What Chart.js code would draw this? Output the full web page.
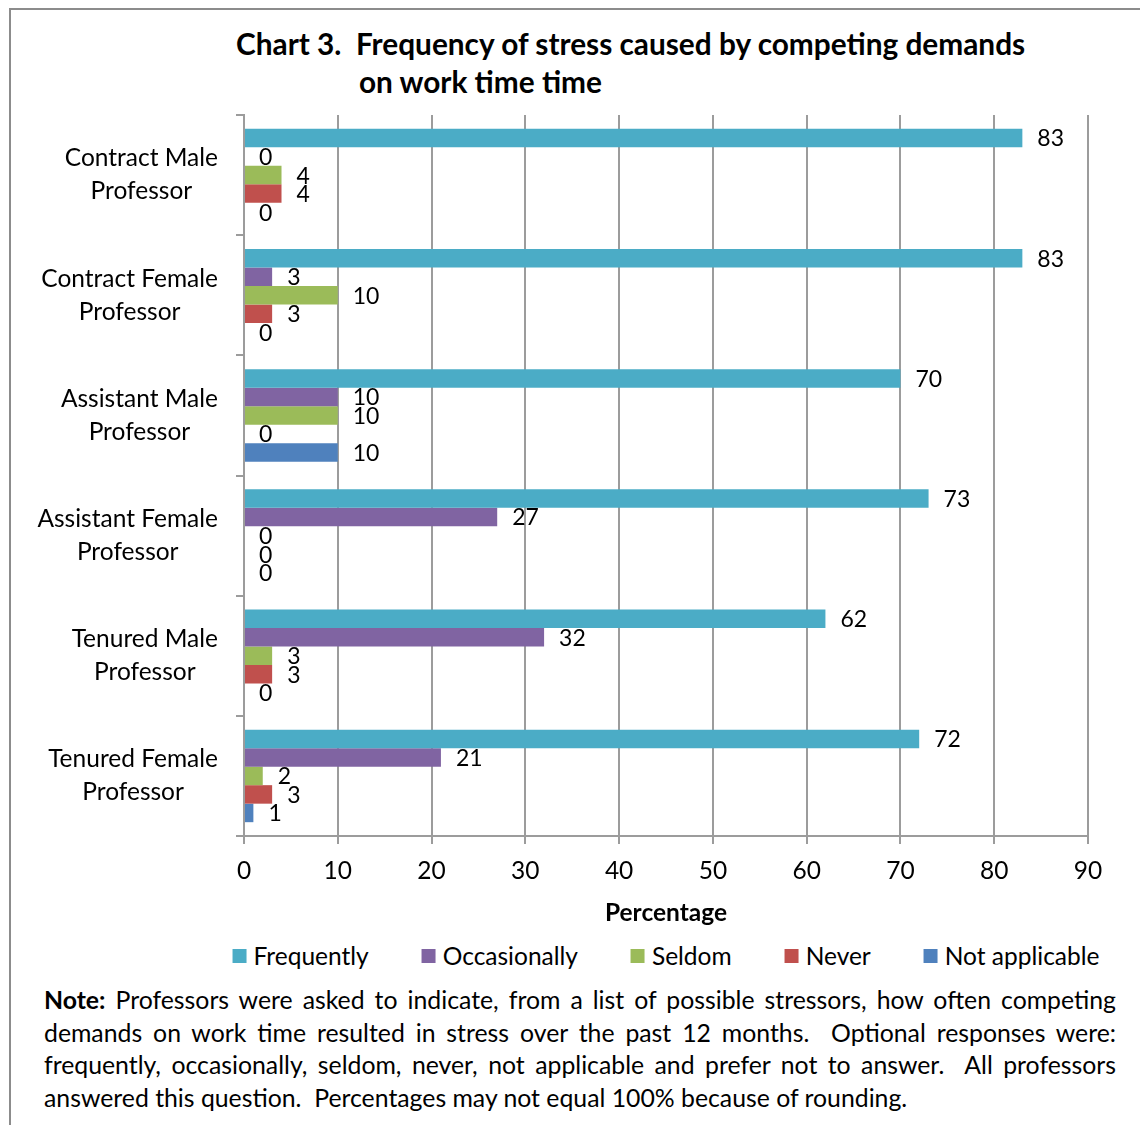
<!DOCTYPE html>
<html>
<head>
<meta charset="utf-8">
<title>Chart 3. Frequency of stress caused by competing demands on work time</title>
<script src="https://cdn.jsdelivr.net/npm/chart.js@4.4.1/dist/chart.umd.min.js"></script>
<style>
  html, body { margin: 0; padding: 0; background: #fff; }
  body {
    width: 1140px; height: 1125px; position: relative; overflow: hidden;
    font-family: Lato, "Open Sans", sans-serif; color: #000;
  }
  .frame {
    position: absolute; left: 9px; top: 8px; width: 1200px; height: 1200px;
    border-left: 2px solid #8c8c8c; border-top: 2px solid #8c8c8c;
  }
  .title {
    position: absolute; left: 236px; top: 25px;
    font-weight: bold; font-size: 29.8px; line-height: 38px; white-space: nowrap;
  }
  .title .second { padding-left: 123px; }
  #chartBox { position: absolute; left: 0; top: 100px; width: 1140px; height: 830px; }
  #legend {
    position: absolute; top: 943px; transform: translateX(-50%);
    display: flex; align-items: center; white-space: nowrap;
    font-size: 24.5px; line-height: 26px;
  }
  #legend .item { display: flex; align-items: center; }
  #legend .item + .item { margin-left: 53px; }
  #legend .swatch { width: 14px; height: 14px; margin-right: 7px; }
  .note {
    position: absolute; left: 44px; top: 984px; width: 1072px;
    font-size: 24.8px; line-height: 32.7px;
  }
  .note div { text-align: justify; text-align-last: justify; white-space: nowrap; }
  .note div:last-child { text-align-last: left; }
</style>
</head>
<body>
<div class="frame"></div>
<div class="title">
  <div>Chart 3.&nbsp; Frequency of stress caused by competing demands</div>
  <div class="second">on work time time</div>
</div>
<div id="chartBox"><canvas id="stressChart"></canvas></div>
<div id="legend"></div>
<div class="note">
  <div><b>Note:</b> Professors were asked to indicate, from a list of possible stressors, how often competing</div>
  <div>demands on work time resulted in stress over the past 12 months.&nbsp; Optional responses were:</div>
  <div>frequently, occasionally, seldom, never, not applicable and prefer not to answer.&nbsp; All professors</div>
  <div>answered this question.&nbsp; Percentages may not equal 100% because of rounding.</div>
</div>
<script>
  const categories = [
    ["Contract Male", "Professor"],
    ["Contract Female", "Professor"],
    ["Assistant Male", "Professor"],
    ["Assistant Female", "Professor"],
    ["Tenured Male", "Professor"],
    ["Tenured Female", "Professor"],
  ];
  const seriesNames = ["Frequently", "Occasionally", "Seldom", "Never", "Not applicable"];
  const frequently = [83, 83, 70, 73, 62, 72];
  const occasionally = [0, 3, 10, 27, 32, 21];
  const seldom = [4, 10, 10, 0, 3, 2];
  const never = [4, 3, 0, 0, 3, 3];
  const notApplicable = [0, 0, 10, 0, 0, 1];
  const xTicks = [0, 10, 20, 30, 40, 50, 60, 70, 80, 90];

  const seriesColors = ["#4BACC6", "#8064A2", "#9BBB59", "#C0504D", "#4F81BD"];
  const gridColor = "#9c9c9c";
  const fontFamily = 'Lato, "Open Sans", sans-serif';
  const fontSize = 24.5;
  const labelFont = `${fontSize}px ${fontFamily}`;
  const valueFont = `23px ${fontFamily}`;

  Chart.defaults.font.family = fontFamily;
  Chart.defaults.color = "#000";

  // two-line category names: block sits right of the axis gap, lines centred inside it
  const categoryLabels = {
    id: "categoryLabels",
    afterDraw(chart) {
      const scale = chart.scales.y;
      const ctx = chart.ctx;
      const right = scale.right - 8 - 18;
      ctx.save();
      ctx.font = labelFont;
      ctx.fillStyle = "#000";
      ctx.textAlign = "center";
      ctx.textBaseline = "middle";
      categories.forEach((lines, i) => {
        const y = scale.getPixelForValue(i);
        const widest = Math.max(...lines.map((l) => ctx.measureText(l).width));
        const cx = right - widest / 2;
        lines.forEach((line, k) => {
          ctx.fillText(line, cx, y + (k - (lines.length - 1) / 2) * 33);
        });
      });
      ctx.restore();
    },
  };

  // value printed just past the end of every bar (zeros included)
  const barValues = {
    id: "barValues",
    afterDatasetsDraw(chart) {
      const ctx = chart.ctx;
      ctx.save();
      ctx.font = valueFont;
      ctx.fillStyle = "#000";
      ctx.textAlign = "left";
      ctx.textBaseline = "middle";
      chart.data.datasets.forEach((ds, d) => {
        chart.getDatasetMeta(d).data.forEach((bar, i) => {
          ctx.fillText(String(ds.data[i]), bar.x + 15, bar.y + 1);
        });
      });
      ctx.restore();
    },
  };

  const htmlLegend = {
    id: "htmlLegend",
    afterUpdate(chart) {
      const box = document.getElementById("legend");
      box.innerHTML = "";
      chart.data.datasets.forEach((ds) => {
        const item = document.createElement("div");
        item.className = "item";
        const swatch = document.createElement("span");
        swatch.className = "swatch";
        swatch.style.background = ds.backgroundColor;
        const text = document.createElement("span");
        text.textContent = ds.label;
        item.appendChild(swatch);
        item.appendChild(text);
        box.appendChild(item);
      });
      const area = chart.chartArea;
      box.style.left = `${(area.left + area.right) / 2}px`;
    },
  };

  const seriesValues = [frequently, occasionally, seldom, never, notApplicable];

  new Chart(document.getElementById("stressChart"), {
    type: "bar",
    data: {
      labels: categories,
      datasets: seriesNames.map((name, idx) => ({
        label: name,
        data: seriesValues[idx],
        backgroundColor: seriesColors[idx],
        borderWidth: 0,
        barPercentage: 1,
        categoryPercentage: 0.77,
      })),
    },
    options: {
      indexAxis: "y",
      responsive: true,
      maintainAspectRatio: false,
      animation: false,
      layout: { padding: { left: 12, right: 52, top: 15, bottom: 4 } },
      plugins: {
        legend: { display: false },
        tooltip: { enabled: false },
      },
      scales: {
        x: {
          min: 0,
          max: 90,
          afterBuildTicks: (scale) => {
            scale.ticks = xTicks.map((value) => ({ value }));
          },
          afterFit: (scale) => {
            scale.height = 90;
          },
          grid: { color: gridColor, lineWidth: 2, tickLength: 8 },
          border: { color: gridColor, width: 2 },
          ticks: { color: "#000", font: { size: fontSize }, padding: 12 },
          title: {
            display: true,
            text: "Percentage",
            color: "#000",
            font: { size: fontSize, weight: "bold" },
            padding: { top: 0, bottom: -2 },
          },
        },
        y: {
          afterFit: (scale) => {
            scale.width = 232;
          },
          grid: { drawOnChartArea: false, color: gridColor, lineWidth: 2, tickLength: 8 },
          border: { color: gridColor, width: 2 },
          ticks: { display: false },
        },
      },
    },
    plugins: [categoryLabels, barValues, htmlLegend],
  });
</script>
</body>
</html>
